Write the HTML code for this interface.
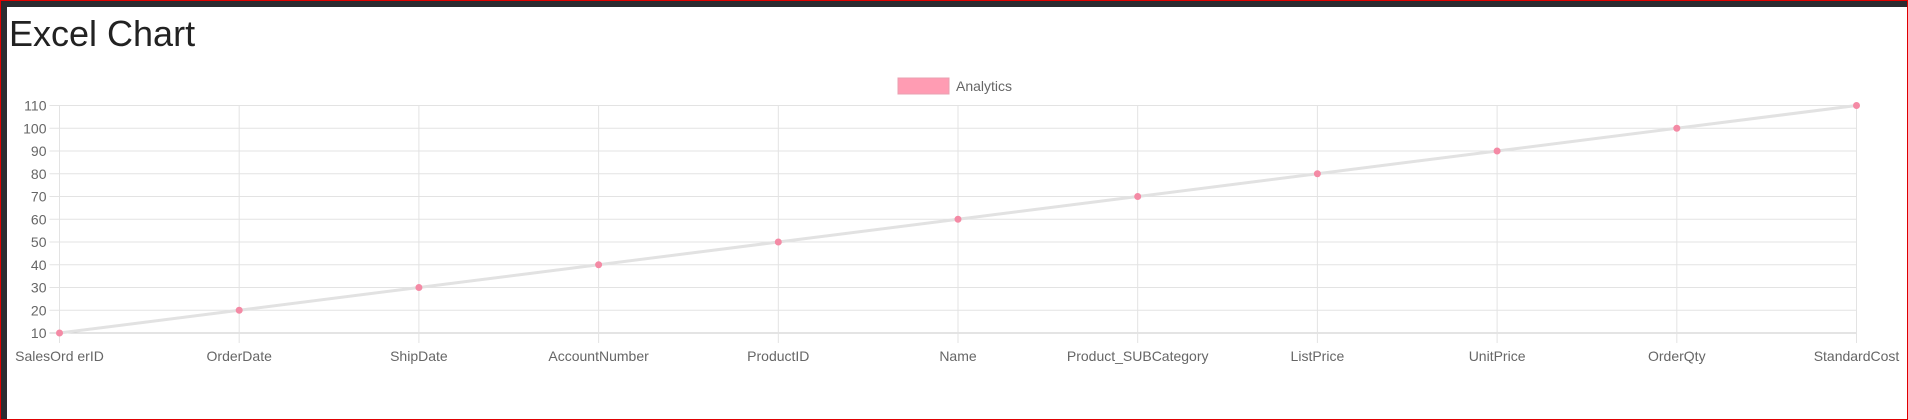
<!DOCTYPE html>
<html><head><meta charset="utf-8"><style>
html,body{margin:0;padding:0;width:1908px;height:420px;overflow:hidden;background:#fff}
#frame{position:absolute;left:0;top:0;width:1906px;height:418px;border:1px solid #e00000;background:#fff}
#bandT{position:absolute;left:0;top:0;width:1906px;height:6px;background:#2b2b30}
#bandL{position:absolute;left:0;top:0;width:6px;height:418px;background:#2b2b30}
#title{position:absolute;left:9px;top:13px;font:36px "Liberation Sans",sans-serif;color:#222}
svg{position:absolute;left:0;top:0}
</style></head><body>
<div id="frame">
<div id="bandT"></div>
<div id="bandL"></div>
</div>
<div id="title">Excel Chart</div>
<svg id="chart" width="1908" height="420"></svg>
<script>
const categories=["SalesOrd erID","OrderDate","ShipDate","AccountNumber","ProductID","Name","Product_SUBCategory","ListPrice","UnitPrice","OrderQty","StandardCost"];
const seriesValues=[10,20,30,40,50,60,70,80,90,100,110];
const yTicks=[10,20,30,40,50,60,70,80,90,100,110];
const seriesName="Analytics";
const NS="http://www.w3.org/2000/svg";
const svg=document.getElementById('chart');
const L=59.5,R=1856.5,T=105.5,B=333;
const yMin=10,yMax=110;
function x(i){return L+(R-L)*i/(categories.length-1);}
function y(v){return B-(B-T)*(v-yMin)/(yMax-yMin);}
function mk(tag,attrs){const e=document.createElementNS(NS,tag);for(const k in attrs)e.setAttribute(k,attrs[k]);svg.appendChild(e);return e;}
yTicks.forEach(t=>{
 const g=mk('line',{x1:L-10,x2:R,y1:y(t),y2:y(t),stroke:t===yMin?'#c8c8c8':'#e3e3e3','stroke-width':1});
 
 
 const lb=mk('text',{x:L-13,y:y(t)+5,'text-anchor':'end','font-family':'Liberation Sans, sans-serif','font-size':14,fill:'#666'});
 lb.textContent=t;
 
 
});
categories.forEach((c,i)=>{
 const g=mk('line',{x1:x(i),x2:x(i),y1:T,y2:B+10,stroke:'#e3e3e3','stroke-width':1});
 
 
 const lb=mk('text',{x:x(i),y:361,'text-anchor':'middle','font-family':'Liberation Sans, sans-serif','font-size':14,fill:'#666'});
 lb.textContent=c;
 
 
});
const pl=mk('polyline',{points:seriesValues.map((v,i)=>x(i)+','+y(v)).join(' '),fill:'none',stroke:'#e2e2e2','stroke-width':3});


seriesValues.forEach((v,i)=>{
 const p=mk('circle',{cx:x(i),cy:y(v),r:3.5,fill:'#f48aa5'});
 
 
});
const lr=mk('rect',{x:898,y:78,width:51,height:16,fill:'#ff9cb3',stroke:'#e8a0b0','stroke-width':1});


const lt=mk('text',{x:956,y:91,'font-family':'Liberation Sans, sans-serif','font-size':14,fill:'#666'});
lt.textContent=seriesName;


</script>
</body></html>
